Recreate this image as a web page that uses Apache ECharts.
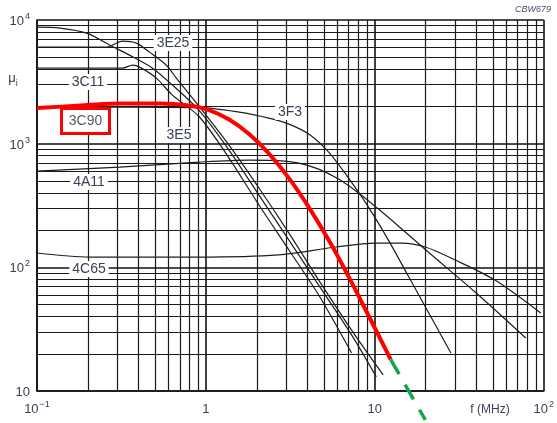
<!DOCTYPE html>
<html><head><meta charset="utf-8">
<script src="https://cdn.jsdelivr.net/npm/echarts@6/dist/echarts.min.js"></script>
<style>html,body{margin:0;padding:0;background:#fff}#c{width:557px;height:423px}</style>
</head><body><div id="c"></div>
<script>
// axis ticks
const xTicks = [0.1, 1, 10, 100];
const yTicks = [10, 100, 1000, 10000];
const minorX = [0.2,0.3,0.4,0.5,0.6,0.7,0.8,0.9, 2,3,4,5,6,7,8,9, 20,30,40,50,60,70,80,90];
const minorY = [20,30,40,50,60,70,80,90, 200,300,400,500,600,700,800,900, 2000,3000,4000,5000,6000,7000,8000,9000];

// curves: frequency (MHz) and initial permeability
const f3E5  = [0.1, 0.137, 0.197, 0.269, 0.353, 0.483, 0.633, 0.913, 1.37, 2.06, 3.10, 4.65, 7.28, 10.2];
const mu3E5 = [8770, 8610, 7840, 6270, 5200, 4080, 2980, 1850, 888, 384, 166, 71.9, 28.4, 13.0];

const f3E25  = [0.1, 0.259, 0.321, 0.388, 0.463, 0.583, 0.668, 0.913, 1.37, 2.06, 3.10, 4.65, 7.28, 11.2];
const mu3E25 = [6040, 6040, 6750, 6500, 5500, 4310, 3390, 2000, 975, 438, 189, 78.9, 31.1, 13.5];

const f3C11  = [0.1, 0.321, 0.368, 0.405, 0.509, 0.633, 0.913, 1.37, 2.06, 3.10, 4.65, 7.28];
const mu3C11 = [4080, 4080, 4310, 4160, 3390, 2470, 1650, 765, 319, 138, 59.7, 20.3];

const f3C90  = [0.1, 0.2, 0.308, 0.531, 0.797, 1.046, 1.372, 1.80, 2.36, 3.10, 4.06, 5.33, 6.99, 9.17, 12.4];
const mu3C90 = [1940, 2050, 2110, 2110, 2032, 1869, 1566, 1196, 832, 527, 307, 166, 84.2, 40.8, 18.0];

const fExt  = [12.4, 19.9];
const muExt = [18.0, 5.83];

const f3F3  = [0.1, 0.913, 1.571, 2.36, 3.10, 4.06, 5.33, 6.99, 9.17, 12.03, 15.78, 20.7, 28.2];
const mu3F3 = [1977, 1958, 1801, 1610, 1440, 1196, 855, 527, 307, 166, 85.0, 43.5, 20.3];

const f4A11  = [0.1, 0.308, 0.913, 1.80, 2.70, 3.55, 4.65, 6.10, 8.01, 10.5, 13.77, 20.7, 39.2, 78.2];
const mu4A11 = [600, 647, 710, 737, 730, 697, 623, 517, 399, 296, 216, 133, 63.1, 26.8];

const f4C65  = [0.1, 0.205, 0.913, 2.69, 5.86, 10.1, 14.4, 19.9, 29.9, 51.4, 95.9];
const mu4C65 = [130.6, 121, 121, 126, 146, 157, 157, 146, 114.5, 78.9, 42.7];

const zip = (a, b) => a.map((v, i) => [v, b[i]]);

const labelColor = '#3a4054';
const supRich = {
  b: {fontSize: 13, color: labelColor, fontFamily: 'Liberation Sans, Arial', lineHeight: 16, verticalAlign: 'bottom'},
  s: {fontSize: 9, color: labelColor, fontFamily: 'Liberation Sans, Arial', lineHeight: 16, verticalAlign: 'top', padding: [0, 0, 6, 1]}
};
const sup = (v) => {
  const e = Math.round(Math.log10(v));
  if (e === 0) return '{b|1}';
  if (e === 1) return '{b|10}';
  const s = e < 0 ? '\u2212' + (-e) : String(e);
  return '{b|10}{s|' + s + '}';
};

const blackLine = (name, f, m) => ({
  name, type: 'line', data: zip(f, m), showSymbol: false, smooth: 0.3,
  lineStyle: {color: '#1e1e1e', width: 1.2}, z: 3, silent: true
});

const chart = echarts.init(document.getElementById('c'), null, {renderer: 'canvas'});

const option = {
  animation: false,
  backgroundColor: '#fff',
  grid: {left: 37, top: 20, right: 11, bottom: 32, containLabel: false},
  xAxis: {
    type: 'log', logBase: 10, min: 0.1, max: 100,
    axisLine: {show: true, lineStyle: {color: '#111', width: 1.6}},
    axisTick: {show: false},
    splitLine: {show: true, lineStyle: {color: '#111', width: 1.6}},
    axisLabel: {margin: 9, formatter: (v) => sup(v), rich: supRich, showMinLabel: true, showMaxLabel: true}
  },
  yAxis: {
    type: 'log', logBase: 10, min: 10, max: 10000,
    axisLine: {show: true, lineStyle: {color: '#111', width: 1.6}},
    axisTick: {show: false},
    splitLine: {show: true, lineStyle: {color: '#111', width: 1.6}},
    axisLabel: {margin: 7, formatter: (v) => sup(v), rich: supRich}
  },
  series: [
    {
      name: 'grid', type: 'line', data: [], silent: true, z: 1,
      markLine: {
        silent: true, symbol: ['none', 'none'], label: {show: false},
        lineStyle: {type: 'solid', color: '#1a1a1a', width: 1.2},
        emphasis: {disabled: true},
        data: minorX.map(v => ({xAxis: v})).concat(minorY.map(v => ({yAxis: v})))
      }
    },
    blackLine('3E5', f3E5, mu3E5),
    blackLine('3E25', f3E25, mu3E25),
    blackLine('3C11', f3C11, mu3C11),
    blackLine('3F3', f3F3, mu3F3),
    blackLine('4A11', f4A11, mu4A11),
    blackLine('4C65', f4C65, mu4C65),
    {
      name: '3C90', type: 'line', data: zip(f3C90, mu3C90), showSymbol: false, smooth: 0.3,
      lineStyle: {color: '#ff0000', width: 4}, z: 5, silent: true
    },
    {
      name: '3C90 ext', type: 'line', data: zip(fExt, muExt), showSymbol: false, clip: false,
      lineStyle: {color: '#10a84a', width: 3.5, type: [17, 12]}, z: 5, silent: true
    }
  ],
  graphic: [
    {type: 'text', x: 533, y: 9, z: 100, style: {text: 'CBW679', align: 'center', verticalAlign: 'middle', font: 'italic 9px Liberation Sans, Arial', fill: '#4a5068'}},
    {type: 'text', x: 13, y: 80, z: 100, style: {text: '{a|\u03bc}{b|i}', align: 'center', verticalAlign: 'middle',
      rich: {a: {fontSize: 13, fill: labelColor, fontFamily: 'Liberation Sans, Arial', lineHeight: 16, verticalAlign: 'top'},
             b: {fontSize: 9, fill: labelColor, fontFamily: 'Liberation Sans, Arial', lineHeight: 16, verticalAlign: 'bottom', padding: [6, 0, 0, 0]}}}},
    {type: 'text', x: 490, y: 410, z: 100, style: {text: 'f (MHz)', align: 'center', verticalAlign: 'middle', font: '12px Liberation Sans, Arial', fill: labelColor}},
    {type: 'text', x: 173, y: 43, z: 100, style: {text: '3E25', align: 'center', verticalAlign: 'middle', font: '14px Liberation Sans, Arial', fill: labelColor, backgroundColor: '#fff', padding: [1, 3]}},
    {type: 'text', x: 88, y: 82, z: 100, style: {text: '3C11', align: 'center', verticalAlign: 'middle', font: '14px Liberation Sans, Arial', fill: labelColor, backgroundColor: '#fff', padding: [1, 3]}},
    {type: 'text', x: 179, y: 135, z: 100, style: {text: '3E5', align: 'center', verticalAlign: 'middle', font: '14px Liberation Sans, Arial', fill: labelColor, backgroundColor: '#fff', padding: [1, 3]}},
    {type: 'text', x: 290, y: 112, z: 100, style: {text: '3F3', align: 'center', verticalAlign: 'middle', font: '14px Liberation Sans, Arial', fill: labelColor, backgroundColor: '#fff', padding: [1, 3]}},
    {type: 'text', x: 89, y: 182, z: 100, style: {text: '4A11', align: 'center', verticalAlign: 'middle', font: '14px Liberation Sans, Arial', fill: labelColor, backgroundColor: '#fff', padding: [1, 3]}},
    {type: 'text', x: 89, y: 269, z: 100, style: {text: '4C65', align: 'center', verticalAlign: 'middle', font: '14px Liberation Sans, Arial', fill: labelColor, backgroundColor: '#fff', padding: [1, 3]}},
    {type: 'rect', z: 100, shape: {x: 61.5, y: 108.5, width: 48, height: 25}, style: {fill: '#fff', stroke: '#ff0000', lineWidth: 3}},
    {type: 'text', x: 85.5, y: 121, z: 101, style: {text: '3C90', align: 'center', verticalAlign: 'middle', font: '14px Liberation Sans, Arial', fill: '#555a66'}}
  ]
};
chart.setOption(option);
</script>
</body></html>
